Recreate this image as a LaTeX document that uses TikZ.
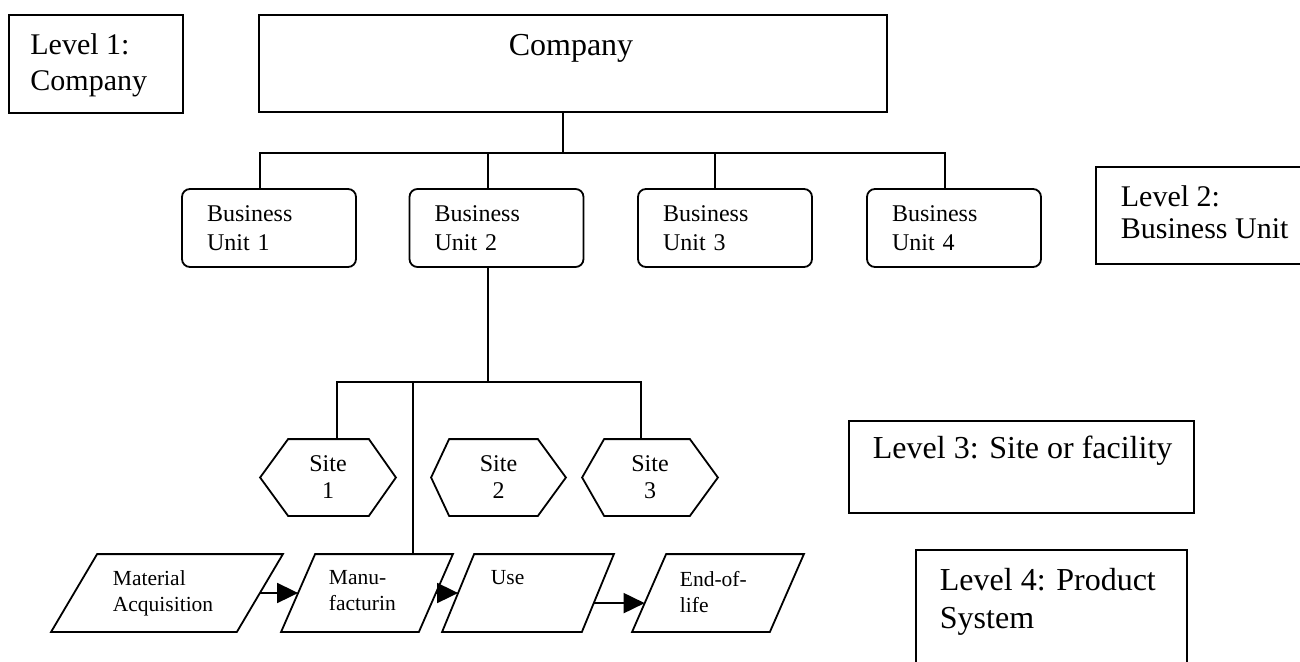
\documentclass[tikz,border=0pt]{standalone}
\usepackage{fontspec}
\setmainfont{Liberation Serif}
\usetikzlibrary{arrows.meta,calc}
\begin{document}
\begin{tikzpicture}[x=1pt,y=-1pt,
  line width=1.8pt, line join=miter,
  box/.style={draw, rectangle, inner sep=0pt},
  frame/.style={rectangle, inner sep=0pt},
  txt/.style={anchor=north west, inner sep=0pt, align=left},
  unitbox/.style={draw, rectangle, rounded corners=8pt, minimum height=78pt,
    text width=124pt, inner xsep=25pt, inner ysep=0pt, align=left,
    font=\fontsize{24}{29.5}\selectfont},
  sitebox/.style={rectangle, inner sep=0pt, minimum height=75pt, align=center,
    font=\fontsize{24}{27}\selectfont},
  flowbox/.style={rectangle, inner sep=0pt, minimum height=76pt},
  flowtxt/.style={txt, font=\fontsize{21.5}{26}\selectfont},
  flowarrow/.style={-{Triangle[length=21pt,width=20pt]}}
]
\useasboundingbox (0,0) rectangle (1300,661);

% ---- Level 1: company ----
\node[box, minimum width=174pt, minimum height=98pt] (l1) at (96,64) {};
\node[txt, font=\fontsize{30}{36}\selectfont] (l1t) at (29.5,32.5) {Level 1:\\Company};
\node[box, minimum width=628pt, minimum height=97pt] (co) at (573,63.5) {};
\node[anchor=north, inner sep=0pt, font=\fontsize{32}{38}\selectfont] (cot) at (571,33) {Company};

% ---- Level 2: business units ----
\node[unitbox] (bu1) at (269,228) {Business\\Unit 1};
\node[unitbox] (bu2) at (496.5,228) {Business\\Unit 2};
\node[unitbox] (bu3) at (725,228) {Business\\Unit 3};
\node[unitbox] (bu4) at (954,228) {Business\\Unit 4};

\node[frame, minimum width=203pt, minimum height=95pt] (l2) at (1198.5,215.5) {};
\draw (l2.north east) -- (l2.north west) -- (l2.south west) -- (l2.south east);
\node[txt, font=\fontsize{30}{32}\selectfont] (l2t) at (1120,184.5) {Level 2:\\Business Unit};

% ---- Level 3: sites ----
\node[sitebox, minimum width=134pt] (s1) at (328,477.5) {Site\\1};
\node[sitebox, minimum width=133pt] (s2) at (498.5,477.5) {Site\\2};
\node[sitebox, minimum width=134pt] (s3) at (650,477.5) {Site\\3};
\draw (s1.west) -- ([xshift=28pt]s1.north west) -- ([xshift=-27pt]s1.north east) -- (s1.east)
  -- ([xshift=-27pt]s1.south east) -- ([xshift=28pt]s1.south west) -- cycle;
\draw (s2.west) -- ([xshift=18pt]s2.north west) -- ([xshift=-28pt]s2.north east) -- (s2.east)
  -- ([xshift=-28pt]s2.south east) -- ([xshift=18pt]s2.south west) -- cycle;
\draw (s3.west) -- ([xshift=22pt]s3.north west) -- ([xshift=-28pt]s3.north east) -- (s3.east)
  -- ([xshift=-28pt]s3.south east) -- ([xshift=22pt]s3.south west) -- cycle;

\node[box, minimum width=345pt, minimum height=92pt] (l3) at (1021.5,467) {};
\node[txt, font=\fontsize{32}{38}\selectfont] (l3t) at (872,435.5) {Level 3: Site or facility};

% ---- Level 4: product system ----
\node[flowbox, minimum width=230pt] (ma) at (167,593) {};
\node[flowbox, minimum width=170pt] (mf) at (367,593) {};
\node[flowbox, minimum width=170pt] (us) at (528,593) {};
\node[flowbox, minimum width=170pt] (eol) at (718,593) {};
\draw (ma.south west) -- ([xshift=46pt]ma.north west) -- (ma.north east) -- ([xshift=-46pt]ma.south east) -- cycle;
\draw (mf.south west) -- ([xshift=34pt]mf.north west) -- (mf.north east) -- ([xshift=-34pt]mf.south east) -- cycle;
\draw (us.south west) -- ([xshift=32pt]us.north west) -- (us.north east) -- ([xshift=-32pt]us.south east) -- cycle;
\draw (eol.south west) -- ([xshift=34pt]eol.north west) -- (eol.north east) -- ([xshift=-34pt]eol.south east) -- cycle;

\node[flowtxt] (mat) at (112,570) {Material\\Acquisition};
\node[flowtxt] (mft) at (328,570) {Manu-\\facturin};
\node[flowtxt] (ust) at (490,570) {Use};
\node[flowtxt] (eolt) at (679,570) {End-of-\\life};

\draw[flowarrow] ($(ma.north east)!0.5!([xshift=-46pt]ma.south east)$)
  -- ($([xshift=34pt]mf.north west)!0.5!(mf.south west)$);
\draw[flowarrow] ($(mf.north east)!0.5!([xshift=-34pt]mf.south east)$)
  -- ($([xshift=32pt]us.north west)!0.5!(us.south west)$);
\draw[flowarrow] ($(us.north east)!0.63!([xshift=-32pt]us.south east)$)
  -- ($([xshift=34pt]eol.north west)!0.63!(eol.south west)$);

\node[frame, minimum width=269pt, minimum height=110pt] (l4) at (1051.5,606) {};
\draw (l4.south west) -- (l4.north west) -- (l4.north east) -- (l4.south east);
\node[txt, font=\fontsize{32}{38}\selectfont] (l4t) at (939,567) {Level 4: Product\\System};

% ---- hierarchy connectors ----
\coordinate (j1) at (563,153);
\draw ([xshift=-10pt]co.south) -- (j1);
\draw ([xshift=-9pt]bu1.north) |- (j1) -| ([xshift=-9pt]bu4.north);
\draw ([xshift=-8.5pt]bu2.north) -- ++(0,-36);
\draw ([xshift=-10pt]bu3.north) -- ++(0,-36);

\coordinate (j2) at (488,382);
\draw ([xshift=-8.5pt]bu2.south) -- (j2);
\draw ([xshift=9pt]s1.north) |- (j2) -| ([xshift=-9pt]s3.north);
\coordinate (j3) at (413,382);
\draw (j3) -- (j3 |- mf.north);
\end{tikzpicture}
\end{document}
